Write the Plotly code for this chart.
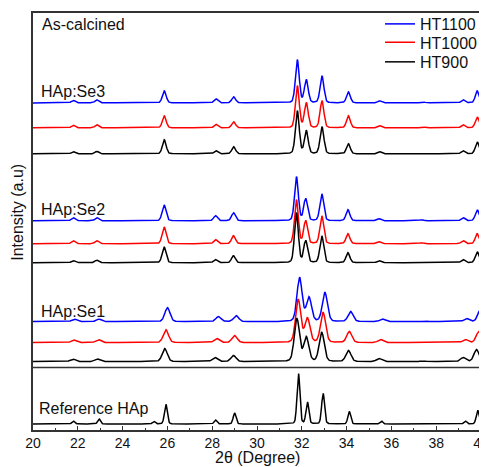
import numpy as np
import plotly.graph_objects as go

# ---------------- data ----------------
two_theta = np.round(np.arange(20.0, 40.0001, 0.02), 3)

series_names = ["HT1100", "HT1000", "HT900"]
series_colors = ["#0000ff", "#ff0000", "#000000"]

# peak positions (deg 2theta) and heights (a.u.) for each sample
se3_pos = [21.8, 22.85, 25.86, 28.17, 28.96, 31.8, 32.2, 32.9, 34.08, 35.48, 37.4, 39.2, 39.83]
se3_HT1100 = [2.5, 3, 12, 4, 6, 43, 23, 27, 11, 2, 1, 3, 12]
se3_HT1000 = [2.5, 3, 12, 3.5, 6, 42, 25, 27, 12, 2, 1, 3, 11]
se3_HT900 = [2, 2.5, 14, 3, 7, 43, 23, 27, 10, 2, 0.5, 3, 12]

se2_pos = [21.8, 22.85, 25.85, 28.15, 28.95, 31.76, 32.17, 32.89, 34.06, 35.45, 37.35, 39.2, 39.83]
se2_HT1100 = [3, 3, 16, 5, 8, 44, 22, 27, 11, 2, 1, 3, 11]
se2_HT1000 = [3, 3, 17, 4, 8, 44, 23, 28, 10, 2, 1, 3, 10]
se2_HT900 = [2, 2.5, 16, 3, 7, 50, 22, 27, 10, 2, 0.5, 3, 11]

se1_pos_HT1100 = [21.85, 22.95, 26.0, 28.28, 29.07, 31.9, 32.32, 33.03, 34.18, 35.6, 37.5, 39.36, 39.97]
se1_pos_HT1000 = [21.82, 22.92, 25.93, 28.2, 29.0, 31.84, 32.25, 32.95, 34.12, 35.52, 37.45, 39.3, 39.9]
se1_pos_HT900 = [21.78, 22.88, 25.88, 28.12, 28.95, 31.78, 32.2, 32.89, 34.08, 35.45, 37.4, 39.2, 39.8]
se1_HT1100 = [2.5, 2.5, 14, 5, 6, 44, 24, 29, 10, 2.5, 0.5, 3, 12]
se1_HT1000 = [2.5, 3, 13, 4, 7, 43, 24, 30, 11, 3, 0.5, 3, 11]
se1_HT900 = [2.5, 2.5, 13, 4, 6, 43, 24, 29, 11, 3, 0.5, 4, 12]

ref_pos = [21.8, 22.95, 25.4, 25.93, 28.15, 29.0, 31.85, 32.25, 32.95, 34.12, 35.55, 39.3, 39.85]
ref_hts = [3, 5, 2.5, 20, 4, 11, 51, 22, 31, 12.5, 3, 3, 14]

x_ticks = [20, 22, 24, 26, 28, 30, 32, 34, 36, 38, 40]

# ---------------- layout helpers (stacking offsets, peak widths) ----------------
groups = [
    dict(label="HAp:Se3", fwhm=0.2,
         pos=[se3_pos, se3_pos, se3_pos], hts=[se3_HT1100, se3_HT1000, se3_HT900],
         offsets=[327.5, 302.5, 276.5]),
    dict(label="HAp:Se2", fwhm=0.2,
         pos=[se2_pos, se2_pos, se2_pos], hts=[se2_HT1100, se2_HT1000, se2_HT900],
         offsets=[209.5, 186.5, 167.5]),
    dict(label="HAp:Se1", fwhm=0.27,
         pos=[se1_pos_HT1100, se1_pos_HT1000, se1_pos_HT900],
         hts=[se1_HT1100, se1_HT1000, se1_HT900],
         offsets=[108.5, 87.5, 68.5]),
]
ref_offset = 6.0
ref_fwhm = 0.15
divider_y = 62.5
y_top = 417.5


def profile(pos, hts, fwhm, eta=0.2):
    y = np.zeros_like(two_theta)
    hw = fwhm / 2.0
    sig = fwhm / 2.3548
    for p, h in zip(pos, hts):
        d = two_theta - p
        y += h * ((1 - eta) * np.exp(-0.5 * (d / sig) ** 2) + eta / (1 + (d / hw) ** 2))
    return y


legend_ids = ["legend", "legend2", "legend3"]

fig = go.Figure()
for gi, g in enumerate(groups):
    for si in range(3):
        fig.add_trace(go.Scatter(
            x=two_theta,
            y=profile(g["pos"][si], g["hts"][si], g["fwhm"]) + g["offsets"][si],
            mode="lines",
            line=dict(color=series_colors[si], width=1.5),
            name=series_names[si],
            showlegend=(gi == 0),
            legend=legend_ids[si],
            hoverinfo="skip",
        ))

fig.add_trace(go.Scatter(
    x=two_theta, y=profile(ref_pos, ref_hts, ref_fwhm) + ref_offset,
    mode="lines", line=dict(color="#000000", width=1.5),
    name="Reference HAp", showlegend=False, hoverinfo="skip",
))

# page body has an 8px margin: screen coords = figure coords + 8
PAGE = 8
L, T, W, H = 33, 13, 448, 417.5   # plot area in screen pixels
FIG_W, FIG_H = 487 - PAGE, 467 - PAGE


def px(xp):
    return (xp - L) / W


def py(yp):
    return (T + H - yp) / H


font_family = "Liberation Sans, Arial, sans-serif"
annots = [
    ("As-calcined", 40, 25),
    ("HAp:Se3", 39, 91.5),
    ("HAp:Se2", 39, 210),
    ("HAp:Se1", 39, 312),
    ("Reference HAp", 37, 409),
]
annotations = [
    dict(text=t, x=px(xp), y=py(yp), xref="paper", yref="paper",
         xanchor="left", yanchor="middle", showarrow=False,
         font=dict(size=16, color="#111", family=font_family))
    for t, xp, yp in annots
]
annotations.append(dict(text="Intensity (a.u)", x=px(18), y=py(213), xref="paper", yref="paper",
                        textangle=-90, xanchor="center", yanchor="middle", showarrow=False,
                        font=dict(size=16, color="#111", family=font_family)))
annotations.append(dict(text="2θ (Degree)", x=px(257), y=py(458), xref="paper", yref="paper",
                        xanchor="center", yanchor="middle", showarrow=False,
                        font=dict(size=16, color="#111", family=font_family)))

legend_rows = [24, 42.5, 62]
legend_style = {}
for lid, row in zip(legend_ids, legend_rows):
    legend_style[lid] = dict(x=px(380), xanchor="left", y=py(row), yanchor="middle",
                             bgcolor="rgba(0,0,0,0)",
                             font=dict(size=16, color="#111", family=font_family),
                             itemwidth=30)

fig.update_layout(
    width=FIG_W, height=FIG_H,
    margin=dict(l=L - PAGE, r=FIG_W - (L - PAGE) - W, t=T - PAGE, b=FIG_H - (T - PAGE) - H,
                autoexpand=False),
    paper_bgcolor="white", plot_bgcolor="white",
    font=dict(family=font_family, size=14, color="#111"),
    showlegend=True,
    annotations=annotations,
    shapes=[dict(type="line", xref="paper", x0=0, x1=1, yref="y", y0=divider_y, y1=divider_y,
                 line=dict(color="#333", width=1.5))],
    xaxis=dict(range=[20, 40], tickvals=x_ticks, ticktext=[str(v) for v in x_ticks],
               ticks="inside", ticklen=4, tickwidth=1, tickcolor="#333",
               minor=dict(ticks="inside", ticklen=2, dtick=1, tick0=20, tickcolor="#333"),
               showline=True, linecolor="#333", linewidth=1.5, mirror=True,
               showgrid=False, zeroline=False, ticklabelstandoff=-1,
               ticklabeloverflow="allow", automargin=False,
               tickfont=dict(size=14, color="#111", family=font_family)),
    yaxis=dict(range=[0, y_top], showticklabels=False, ticks="",
               showline=True, linecolor="#333", linewidth=1.5, mirror=True,
               showgrid=False, zeroline=False, automargin=False),
    **legend_style,
)

fig.write_html("out.html")
